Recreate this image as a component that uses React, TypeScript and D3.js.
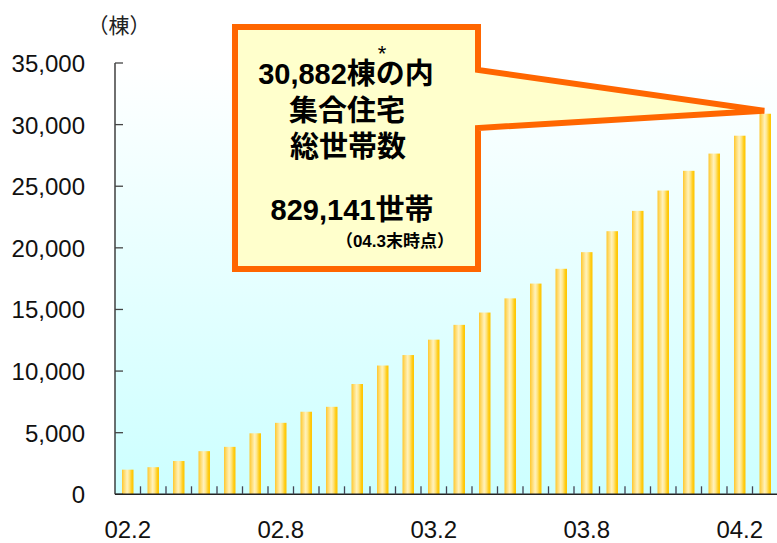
import React, {useEffect, useRef} from "react";
import * as d3 from "d3";

// months from 02.2 to 04.3
const months = [
    "02.2", "02.3", "02.4", "02.5", "02.6", "02.7", "02.8", "02.9", "02.10", "02.11", "02.12",
    "03.1", "03.2", "03.3", "03.4", "03.5", "03.6", "03.7", "03.8", "03.9", "03.10", "03.11", "03.12",
    "04.1", "04.2", "04.3"
];
const buildings = [
    2000, 2200, 2700, 3500, 3850, 4950, 5800, 6700, 7100, 8950, 10450,
    11300, 12550, 13750, 14750, 15900, 17100, 18300, 19650, 21350, 23000, 24650, 26250,
    27650, 29100, 30882
];
const xLabels = ["02.2", "02.8", "03.2", "03.8", "04.2"];
const yTicks = [0, 5000, 10000, 15000, 20000, 25000, 30000, 35000];
const calloutLines = ["30,882棟の内", "集合住宅", "総世帯数", "829,141世帯"];
const calloutNote = "（04.3末時点）";

const W = 777;
const H = 543;
const FONT = "'Liberation Sans', Arial, 'Noto Sans CJK JP', sans-serif";

const App = () => {
    const ref = useRef<SVGSVGElement>(null);

    useEffect(() => {
        const svg = d3.select(ref.current);
        svg.selectAll("*").remove();

        const left = 115, top = 63, bottom = 494.3, step = 25.5;
        const x = d3.scaleBand().domain(months).range([left, left + step * months.length]).padding(0);
        const y = d3.scaleLinear().domain([0, 35000]).range([bottom, top]);

        const defs = svg.append("defs");
        const bg = defs.append("linearGradient").attr("id", "bg").attr("x1", 0).attr("y1", 0).attr("x2", 0).attr("y2", 1);
        bg.append("stop").attr("offset", "0%").attr("stop-color", "#ffffff");
        bg.append("stop").attr("offset", "100%").attr("stop-color", "#ccffff");

        const bar = defs.append("linearGradient").attr("id", "bar").attr("x1", 0).attr("y1", 0).attr("x2", 1).attr("y2", 0);
        [["0%", "#ffc72e"], ["20%", "#ffdb6e"], ["45%", "#fff2bd"], ["62%", "#ffe68a"], ["85%", "#ffcc14"], ["100%", "#ffc400"]]
            .forEach(([o, c]) => bar.append("stop").attr("offset", o).attr("stop-color", c));

        // plot background
        svg.append("rect")
            .attr("x", left).attr("y", top)
            .attr("width", W - left).attr("height", bottom - top)
            .attr("fill", "url(#bg)");

        // bars
        const bw = 11.5;
        svg.append("g").selectAll("rect")
            .data(buildings)
            .join("rect")
            .attr("x", (d, i) => (x(months[i]) as number) + x.bandwidth() / 2 - bw / 2)
            .attr("y", d => y(d))
            .attr("width", bw)
            .attr("height", d => bottom - y(d))
            .attr("fill", "url(#bar)");

        // y axis
        const ya = svg.append("g");
        ya.append("line")
            .attr("x1", left).attr("x2", left).attr("y1", top).attr("y2", bottom)
            .attr("stroke", "#222").attr("stroke-width", 1.3);
        ya.selectAll("line.tick")
            .data(yTicks)
            .join("line")
            .attr("class", "tick")
            .attr("x1", left).attr("x2", left + 8)
            .attr("y1", d => y(d)).attr("y2", d => y(d))
            .attr("stroke", "#444").attr("stroke-width", 1.3);
        ya.selectAll("text")
            .data(yTicks)
            .join("text")
            .attr("x", 85)
            .attr("y", d => y(d) + 9)
            .attr("text-anchor", "end")
            .attr("font-family", FONT)
            .attr("font-size", 24)
            .attr("fill", "#111")
            .text(d => d3.format(",")(d));

        // x axis
        const xa = svg.append("g");
        xa.append("line")
            .attr("x1", left).attr("x2", W).attr("y1", bottom).attr("y2", bottom)
            .attr("stroke", "#222").attr("stroke-width", 1.5);
        xa.selectAll("line.tick")
            .data(months.slice(1))
            .join("line")
            .attr("class", "tick")
            .attr("x1", d => x(d) as number).attr("x2", d => x(d) as number)
            .attr("y1", bottom).attr("y2", bottom - 8)
            .attr("stroke", "#445").attr("stroke-width", 1.3);
        xa.selectAll("text")
            .data(xLabels)
            .join("text")
            .attr("x", d => (x(d) as number) + x.bandwidth() / 2)
            .attr("y", 538)
            .attr("text-anchor", "middle")
            .attr("font-family", FONT)
            .attr("font-size", 24)
            .attr("fill", "#111")
            .text(d => d);

        // unit
        svg.append("text")
            .attr("x", 119).attr("y", 33)
            .attr("text-anchor", "middle")
            .attr("font-family", "'Noto Sans CJK JP', sans-serif")
            .attr("font-size", 21)
            .attr("fill", "#222")
            .text("（棟）");

        // callout pointing to last bar
        const last = months[months.length - 1];
        const tipX = (x(last) as number) + x.bandwidth() / 2 - 1;
        const tipY = y(buildings[buildings.length - 1]) - 3;
        const bx0 = 235, by0 = 27, bx1 = 478, by1 = 269;
        const path = d3.path();
        path.moveTo(bx0, by0);
        path.lineTo(bx1, by0);
        path.lineTo(bx1, 70);
        path.lineTo(tipX, tipY);
        path.lineTo(bx1, 128);
        path.lineTo(bx1, by1);
        path.lineTo(bx0, by1);
        path.closePath();
        svg.append("path")
            .attr("d", path.toString())
            .attr("fill", "#ffffcc")
            .attr("stroke", "#ff6600")
            .attr("stroke-width", 6)
            .attr("stroke-linejoin", "miter");

        const cy = [84, 121, 157, 220];
        const cx = [346, 347, 348, 352];
        svg.append("g").selectAll("text")
            .data(calloutLines)
            .join("text")
            .attr("x", (d, i) => cx[i])
            .attr("y", (d, i) => cy[i])
            .attr("text-anchor", "middle")
            .attr("font-family", FONT)
            .attr("font-weight", "bold")
            .attr("font-size", 29)
            .attr("fill", "#000")
            .text(d => d);
        svg.append("text")
            .attr("x", 382).attr("y", 61)
            .attr("text-anchor", "middle")
            .attr("font-family", FONT)
            .attr("font-size", 22)
            .attr("fill", "#000")
            .text("*");
        svg.append("text")
            .attr("x", 454).attr("y", 247)
            .attr("text-anchor", "end")
            .attr("font-family", FONT)
            .attr("font-weight", "bold")
            .attr("font-size", 17)
            .attr("fill", "#000")
            .text(calloutNote);
    }, []);

    return (
        <svg
            ref={ref}
            width={W}
            height={H}
            viewBox={`0 0 ${W} ${H}`}
            style={{position: "absolute", left: 0, top: 0, background: "#fff"}}
        />
    );
};

export default App;
